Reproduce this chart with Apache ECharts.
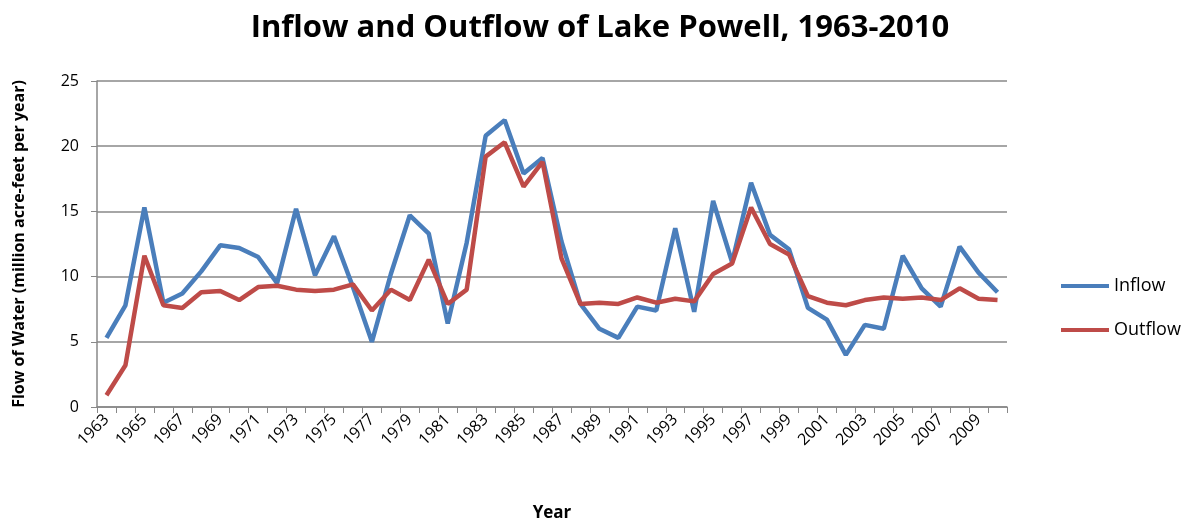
<!DOCTYPE html>
<html>
<head>
<meta charset="utf-8">
<script src="https://cdn.jsdelivr.net/npm/echarts@6/dist/echarts.min.js"></script>
<style>
  html, body { margin: 0; padding: 0; background: #fff; }
  #chart { width: 1197px; height: 525px; }
</style>
</head>
<body>
<div id="chart"></div>
<script>
// years 1963-2010
const years = [];
for (let y = 1963; y <= 2010; y++) years.push(String(y));

// million acre-feet per year
const inflow = [
  5.3, 7.8, 15.3, 8.0, 8.7, 10.4, 12.4, 12.2, 11.5, 9.5,
  15.2, 10.1, 13.1, 9.2, 5.0, 10.2, 14.7, 13.3, 6.4, 12.6,
  20.8, 22.0, 17.9, 19.1, 12.7, 7.9, 6.0, 5.3, 7.7, 7.4,
  13.7, 7.3, 15.8, 11.1, 17.2, 13.2, 12.1, 7.6, 6.7, 4.0,
  6.3, 6.0, 11.6, 9.1, 7.7, 12.3, 10.3, 8.8
];
const outflow = [
  0.9, 3.2, 11.6, 7.8, 7.6, 8.8, 8.9, 8.2, 9.2, 9.3,
  9.0, 8.9, 9.0, 9.4, 7.4, 9.0, 8.2, 11.3, 7.9, 9.0,
  19.2, 20.3, 16.9, 18.8, 11.4, 7.9, 8.0, 7.9, 8.4, 8.0,
  8.3, 8.1, 10.2, 11.0, 15.3, 12.5, 11.7, 8.5, 8.0, 7.8,
  8.2, 8.4, 8.3, 8.4, 8.2, 9.1, 8.3, 8.2
];

const chart = echarts.init(document.getElementById("chart"));
const font = "Open Sans";

const option = {
  animation: false,
  title: {
    text: "Inflow and Outflow of Lake Powell, 1963-2010",
    left: 595,
    top: 8,
    textAlign: "center",
    textStyle: { fontFamily: font, fontWeight: "bold", fontSize: 31, color: "#000" }
  },
  legend: {
    orient: "vertical",
    left: 1056,
    top: 272,
    itemWidth: 48,
    itemHeight: 4,
    itemGap: 26,
    icon: "rect",
    textStyle: { fontFamily: font, fontSize: 18, color: "#000" },
    data: ["Inflow", "Outflow"]
  },
  grid: { left: 97, right: 190, top: 81, bottom: 118, outerBoundsMode: "none" },
  xAxis: {
    type: "category",
    data: years,
    boundaryGap: true,
    name: "Year",
    nameLocation: "middle",
    nameGap: 98,
    nameTextStyle: { fontFamily: font, fontWeight: "bold", fontSize: 17, color: "#000" },
    axisLine: { lineStyle: { color: "#888", width: 1.5 } },
    axisTick: { show: true, interval: 0, length: 6, lineStyle: { color: "#888" } },
    axisLabel: {
      interval: 1,
      rotate: 45,
      fontFamily: font,
      fontSize: 16,
      color: "#000",
      margin: 10
    }
  },
  yAxis: {
    type: "value",
    min: 0,
    max: 25,
    interval: 5,
    name: "Flow of Water (million acre-feet per year)",
    nameLocation: "middle",
    nameGap: 70,
    nameTextStyle: { fontFamily: font, fontWeight: "bold", fontSize: 16, color: "#000" },
    axisLine: { show: true, lineStyle: { color: "#888", width: 1.5 } },
    axisTick: { show: true, length: 6, lineStyle: { color: "#888" } },
    axisLabel: { fontFamily: font, fontSize: 16, color: "#000", margin: 18 },
    splitLine: { lineStyle: { color: "#888", width: 1.5 } }
  },
  series: [
    {
      name: "Inflow",
      type: "line",
      data: inflow,
      symbol: "none",
      lineStyle: { width: 4.5, color: "#4A7EBB" },
      itemStyle: { color: "#4A7EBB" }
    },
    {
      name: "Outflow",
      type: "line",
      data: outflow,
      symbol: "none",
      lineStyle: { width: 4.5, color: "#BE4B48" },
      itemStyle: { color: "#BE4B48" }
    }
  ]
};

chart.setOption(option);
</script>
</body>
</html>
